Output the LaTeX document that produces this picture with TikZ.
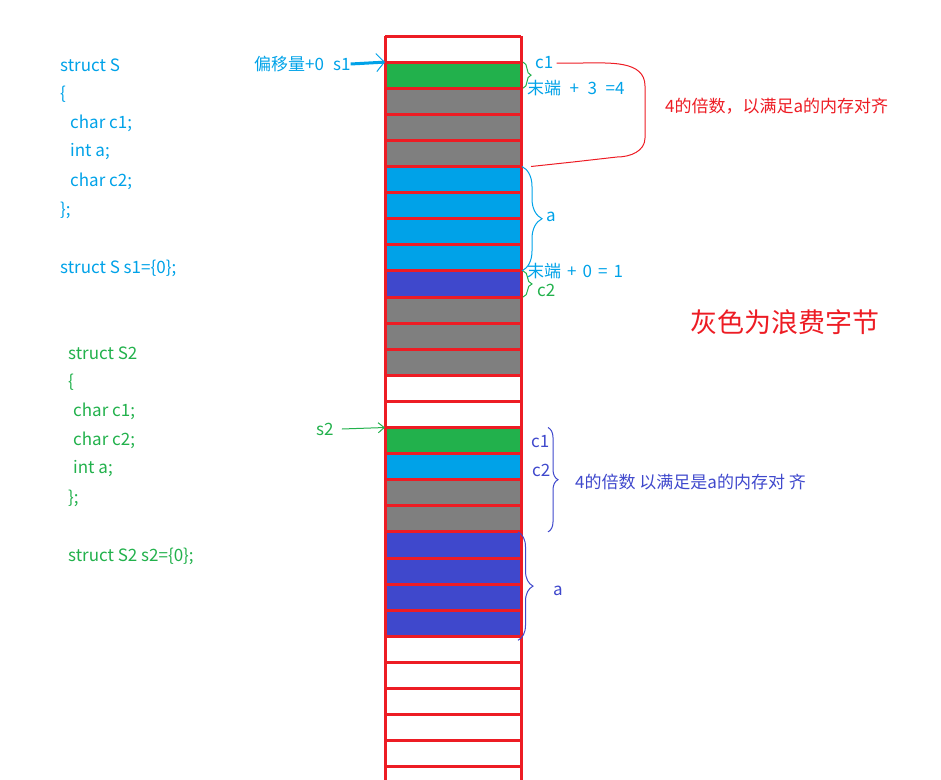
\documentclass[tikz,border=0pt]{standalone}
\usepackage{fontspec}
\setmainfont{Noto Sans CJK SC}
\usetikzlibrary{arrows.meta,decorations.pathreplacing}
\definecolor{scyan}{HTML}{00A2E8}
\definecolor{sgreen}{HTML}{22B14C}
\definecolor{sred}{HTML}{ED1C24}
\definecolor{sgray}{HTML}{7F7F7F}
\definecolor{sblue}{HTML}{3F48CC}
\tikzset{
  cell/.style={minimum width=136pt, minimum height=26.1pt, inner sep=0pt, outer sep=0pt},
  wall/.style={draw=sred, line width=3pt},
  lbl/.style={inner sep=0pt, anchor=west, font=\fontsize{17}{20}\selectfont},
  brc/.style={decorate, decoration={brace, amplitude=#1}, line width=1pt},
}
\begin{document}
\begin{tikzpicture}[x=1pt, y=-1pt]
\useasboundingbox (0,0) rectangle (941,779);
\clip (0,0) rectangle (941,779);

% memory column
\foreach \i/\col in {0/white,1/sgreen,2/sgray,3/sgray,4/sgray,5/scyan,6/scyan,7/scyan,8/scyan,9/sblue,
  10/sgray,11/sgray,12/sgray,13/white,14/white,15/sgreen,16/scyan,17/sgray,18/sgray,19/sblue,
  20/sblue,21/sblue,22/sblue,23/white,24/white,25/white,26/white,27/white,28/white}
  \node[cell, fill=\col] (r\i) at (453, {49.05+26.1*\i}) {};
\foreach \i in {0,...,28}
  \draw[wall] (r\i.north west) -- (r\i.north east);
\draw[wall] (r0.north west) -- (r28.south west);
\draw[wall] (r0.north east) -- (r28.south east);

% struct S
\node[lbl, scyan] (A1) at (60,65) {struct S};
\node[lbl, scyan] (A2) at (60,94) {\{};
\node[lbl, scyan] (A3) at (70,123) {char c1;};
\node[lbl, scyan] (A4) at (70,152) {int a;};
\node[lbl, scyan] (A5) at (70,181) {char c2;};
\node[lbl, scyan] (A6) at (60,210) {\};};
\node[lbl, scyan] (A7) at (60,268) {struct S s1=\{0\};};

% struct S2
\node[lbl, sgreen] (B1) at (68,353) {struct S2};
\node[lbl, sgreen] (B2) at (68,382) {\{};
\node[lbl, sgreen] (B3) at (73,411) {char c1;};
\node[lbl, sgreen] (B4) at (73,440) {char c2;};
\node[lbl, sgreen] (B5) at (73,469) {int a;};
\node[lbl, sgreen] (B6) at (68,498) {\};};
\node[lbl, sgreen] (B7) at (68,556) {struct S2 s2=\{0\};};

% labels of s1
\node[lbl, scyan] (S1) at (254,64) {偏移量+0\hspace{9pt}s1};
\node[lbl, scyan] (C1) at (535,63) {c1};
\node[lbl, scyan] (E1) at (527,88) {末端\enspace+\enspace3\enspace=4};
\node[lbl, scyan] (A) at (546,217) {a};
\node[lbl, scyan] (E2) at (527,271) {末端\hspace{6pt}+\hspace{6pt}0\hspace{6pt}=\hspace{6pt}1};
\node[lbl, sgreen] (C2) at (537,290) {c2};
\node[lbl, sred] (R1) at (665,106) {4的倍数，以满足a的内存对齐};
\node[lbl, sred, font=\fontsize{27}{31}\selectfont] (W) at (690,322) {灰色为浪费字节};

% labels of s2
\node[lbl, sgreen] (S2) at (316,429) {s2};
\node[lbl, sblue] (D1) at (531,442) {c1};
\node[lbl, sblue] (D2) at (532,470) {c2};
\node[lbl, sblue] (R2) at (575,482) {4的倍数 以满足是a的内存对 齐};
\node[lbl, sblue] (B) at (553,591) {a};

\draw[scyan, line width=3pt, -{Straight Barb[line width=1pt, length=8pt, width=18pt]}] (S1.east) -- (r1.north west);
\draw[sgreen, line width=1pt, -{Straight Barb[length=6pt, width=10pt]}] ([xshift=8pt]S2.east) -- (r15.north west);
\draw[sred, line width=1pt] ([xshift=3pt]C1.east) -- (583,63) to[out=0, in=90] (645,86)
  -- (645,138) to[out=-90, in=0] (617,157) -- (573,162) -- ([xshift=10pt]r5.north east);

\draw[brc=8, sgreen] ([xshift=2pt]r1.north east) -- ([xshift=2pt]r1.south east);
\draw[brc=20, scyan] ([xshift=1pt]r5.north east) -- ([xshift=1pt]r8.south east);
\draw[brc=9, sgreen] ([xshift=2pt]r9.north east) -- ([xshift=2pt]r9.south east);
\draw[brc=10, sblue] ([xshift=27pt]r15.north east) -- ([xshift=27pt]r18.south east);
\draw[brc=15, sblue] ([xshift=-3pt]r19.north east) -- ([xshift=-3pt, yshift=-4pt]r22.south east);
\end{tikzpicture}
\end{document}
